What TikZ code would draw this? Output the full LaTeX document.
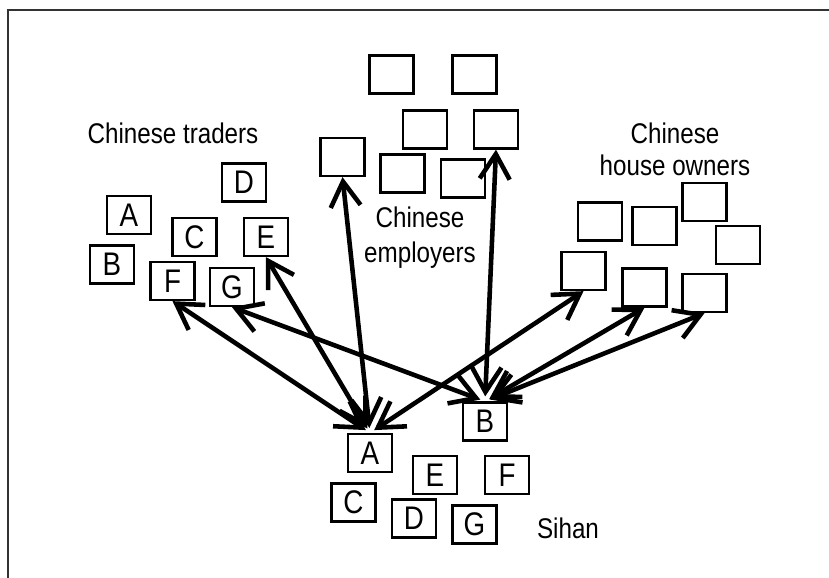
\documentclass[tikz,border=0pt]{standalone}
\usepackage{fontspec}
\setmainfont{Liberation Sans}[FakeStretch=0.85]
\usetikzlibrary{arrows.meta}

\begin{document}
\begin{tikzpicture}[x=0.02cm,y=-0.02cm,
  box/.style={draw,line width=1.3pt,minimum width=0.88cm,minimum height=0.76cm,inner sep=0pt,font=\fontsize{18.6}{22}\selectfont},
  lbl/.style={inner sep=0pt,align=center,font=\fontsize{16.2}{19.9}\selectfont},
  link/.style={{Straight Barb[length=0.5cm,width=0.6cm]}-{Straight Barb[length=0.5cm,width=0.6cm]},line width=2.6pt,shorten <=0.1cm}]
  \useasboundingbox (0,0) rectangle (829,578);
  \draw[line width=0.7pt,black!80] (8,578) -- (8,10) -- (829,10);

  \node[lbl,anchor=base] (traders) at (173,143) {Chinese traders};
  \node[lbl,anchor=north] (employers) at (420,207) {Chinese\\employers};
  \node[lbl,anchor=north,font=\fontsize{16.2}{18.2}\selectfont] (owners) at (675,123) {Chinese\\house owners};
  \node[lbl,anchor=base] (sihan) at (568,538) {Sihan};

  \node[box] (tA) at (129,215) {A};
  \node[box] (tB) at (112,264.5) {B};
  \node[box] (tC) at (194.5,237) {C};
  \node[box] (tD) at (244,182.5) {D};
  \node[box] (tE) at (266,237) {E};
  \node[box] (tF) at (172.5,281) {F};
  \node[box] (tG) at (232,287) {G};

  \node[box] (e1) at (391.5,74.5) {};
  \node[box] (e2) at (474.5,74.5) {};
  \node[box] (e3) at (425,129.5) {};
  \node[box] (e4) at (496,129.5) {};
  \node[box] (e5) at (342.5,157) {};
  \node[box] (e6) at (402.5,173.5) {};
  \node[box] (e7) at (463,178.5) {};

  \node[box] (h1) at (600,221.5) {};
  \node[box] (h2) at (654.5,226) {};
  \node[box] (h3) at (704.5,202) {};
  \node[box] (h4) at (738,245) {};
  \node[box] (h5) at (583.5,271) {};
  \node[box] (h6) at (644.5,287.5) {};
  \node[box] (h7) at (704.5,293) {};

  \node[box] (sA) at (370,453) {A};
  \node[box] (sB) at (485,421.5) {B};
  \node[box] (sC) at (353.5,502.5) {C};
  \node[box] (sD) at (414,518.5) {D};
  \node[box] (sE) at (435,475) {E};
  \node[box] (sF) at (507,475) {F};
  \node[box] (sG) at (474.5,524.5) {G};

  \draw[link] (sA.north) -- (tF.south);
  \draw[link] (sA.north) -- (tE.south);
  \draw[link] (sA.north) -- (e5.south);
  \draw[link] (sA.north) -- (h5.south);
  \draw[link] (sB.north) -- (tG.south);
  \draw[link] (sB.north) -- (e4.south);
  \draw[link] (sB.north) -- (h6.south);
  \draw[link] (sB.north) -- (h7.south);
\end{tikzpicture}
\end{document}
